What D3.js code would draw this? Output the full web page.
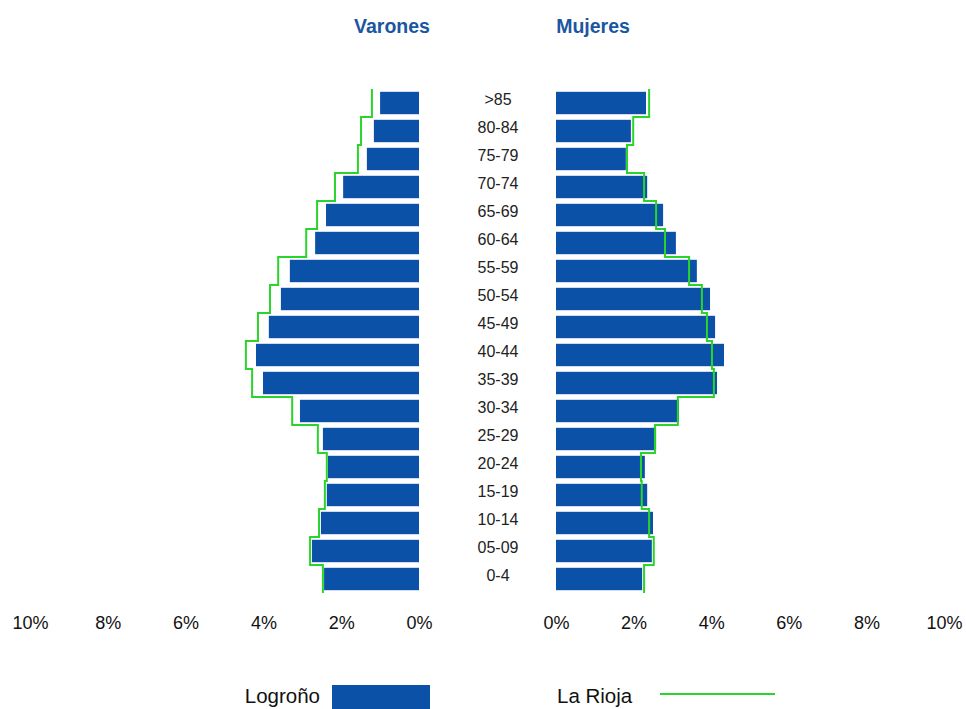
<!DOCTYPE html>
<html>
<head>
<meta charset="utf-8">
<script src="https://cdn.jsdelivr.net/npm/d3@7"></script>
<style>
  body { margin: 0; background: #fff; }
  svg text { font-family: "Liberation Sans", Arial, sans-serif; }
</style>
</head>
<body>
<svg id="chart" width="966" height="709"></svg>
<script>
// MARK: Data (percent of population, top row first).

const ages = ['>85', '80-84', '75-79', '70-74', '65-69', '60-64', '55-59', '50-54', '45-49',
  '40-44', '35-39', '30-34', '25-29', '20-24', '15-19', '10-14', '05-09', '0-4']

const menLogrono   = [1.00, 1.16, 1.34, 1.95, 2.39, 2.67, 3.32, 3.55, 3.86, 4.19, 4.01, 3.06, 2.47, 2.34, 2.37, 2.52, 2.75, 2.44]
const menRioja     = [1.21, 1.49, 1.57, 2.16, 2.62, 2.90, 3.62, 3.83, 4.14, 4.45, 4.29, 3.26, 2.60, 2.37, 2.42, 2.57, 2.80, 2.47]
const womenLogrono = [2.32, 1.93, 1.80, 2.35, 2.76, 3.09, 3.63, 3.97, 4.10, 4.33, 4.15, 3.17, 2.58, 2.29, 2.35, 2.50, 2.47, 2.22]
const womenRioja   = [2.40, 1.99, 1.83, 2.27, 2.58, 2.81, 3.43, 3.76, 3.89, 4.02, 4.07, 3.14, 2.55, 2.19, 2.21, 2.40, 2.52, 2.27]

const tickValues = [0, 2, 4, 6, 8, 10]

// MARK: Styles.

const BAR_COLOR   = '#0b51a8'
const LINE_COLOR  = '#2bd42b'
const TITLE_COLOR = '#1b56a1'

const svg = d3.select('#chart')

// MARK: Scales.

const xLeft  = d3.scaleLinear().domain([0, 10]).range([419, 30])
const xRight = d3.scaleLinear().domain([0, 10]).range([556, 944])
const y = d3.scaleBand().domain(ages).range([89, 593])
  .paddingInner(0.2).paddingOuter(0.1)

const gap = y.step() - y.bandwidth()

// Step outline: a vertical piece over each whole row band.
function stepPoints(values) {
  const pts = []
  ages.forEach((a, i) => {
    pts.push([values[i], y(a) - gap / 2])
    pts.push([values[i], y(a) + y.bandwidth() + gap / 2])
  })
  return pts
}

function drawSide(x, logrono, rioja, leftSide) {
  const g = svg.append('g')

  g.selectAll('rect')
    .data(ages).enter()
    .append('rect')
    .attr('x'     , (a, i) => leftSide ? x(logrono[i]) : x(0))
    .attr('y'     , (a) => y(a))
    .attr('width' , (a, i) => Math.abs(x(logrono[i]) - x(0)))
    .attr('height', y.bandwidth())
    .attr('fill'  , BAR_COLOR)

  const line = d3.line().x((d) => x(d[0])).y((d) => d[1])
  g.append('path')
    .attr('d'           , line(stepPoints(rioja)))
    .attr('fill'        , 'none')
    .attr('stroke'      , LINE_COLOR)
    .attr('stroke-width', 2)

  const axis = d3.axisBottom(x)
    .tickValues(tickValues)
    .tickSize(0)
    .tickFormat((d) => d + '%')
  const ax = svg.append('g')
    .attr('transform', 'translate(0, 613)')
    .call(axis)
  ax.select('.domain').remove()
  ax.selectAll('text')
    .attr('font-family', '"Liberation Sans", Arial, sans-serif')
    .attr('font-size'  , 18)
    .attr('fill'       , '#111')
}

drawSide(xLeft , menLogrono  , menRioja  , true)
drawSide(xRight, womenLogrono, womenRioja, false)

// MARK: Age labels.

svg.append('g').selectAll('text')
  .data(ages).enter()
  .append('text')
  .attr('x'          , 498)
  .attr('y'          , (a) => y(a) + y.bandwidth() / 2 - 4)
  .attr('text-anchor', 'middle')
  .attr('dominant-baseline', 'central')
  .attr('font-size'  , 16)
  .attr('fill'       , '#222')
  .text((a) => a)

// MARK: Titles.

svg.append('text')
  .attr('x', 392).attr('y', 33)
  .attr('text-anchor', 'middle')
  .attr('font-size', 19.5).attr('font-weight', 'bold')
  .attr('fill', TITLE_COLOR)
  .text('Varones')

svg.append('text')
  .attr('x', 593).attr('y', 33)
  .attr('text-anchor', 'middle')
  .attr('font-size', 19.5).attr('font-weight', 'bold')
  .attr('fill', TITLE_COLOR)
  .text('Mujeres')

// MARK: Legend.

const legend = svg.append('g')
legend.append('text')
  .attr('x', 320).attr('y', 703)
  .attr('text-anchor', 'end')
  .attr('font-size', 20.5).attr('fill', '#111')
  .text('Logroño')
legend.append('rect')
  .attr('x', 332).attr('y', 685)
  .attr('width', 98).attr('height', 24)
  .attr('fill', BAR_COLOR)
legend.append('text')
  .attr('x', 557).attr('y', 703)
  .attr('font-size', 20.5).attr('fill', '#111')
  .text('La Rioja')
legend.append('line')
  .attr('x1', 660).attr('x2', 775)
  .attr('y1', 694).attr('y2', 694)
  .attr('stroke', LINE_COLOR).attr('stroke-width', 2)
</script>
</body>
</html>
